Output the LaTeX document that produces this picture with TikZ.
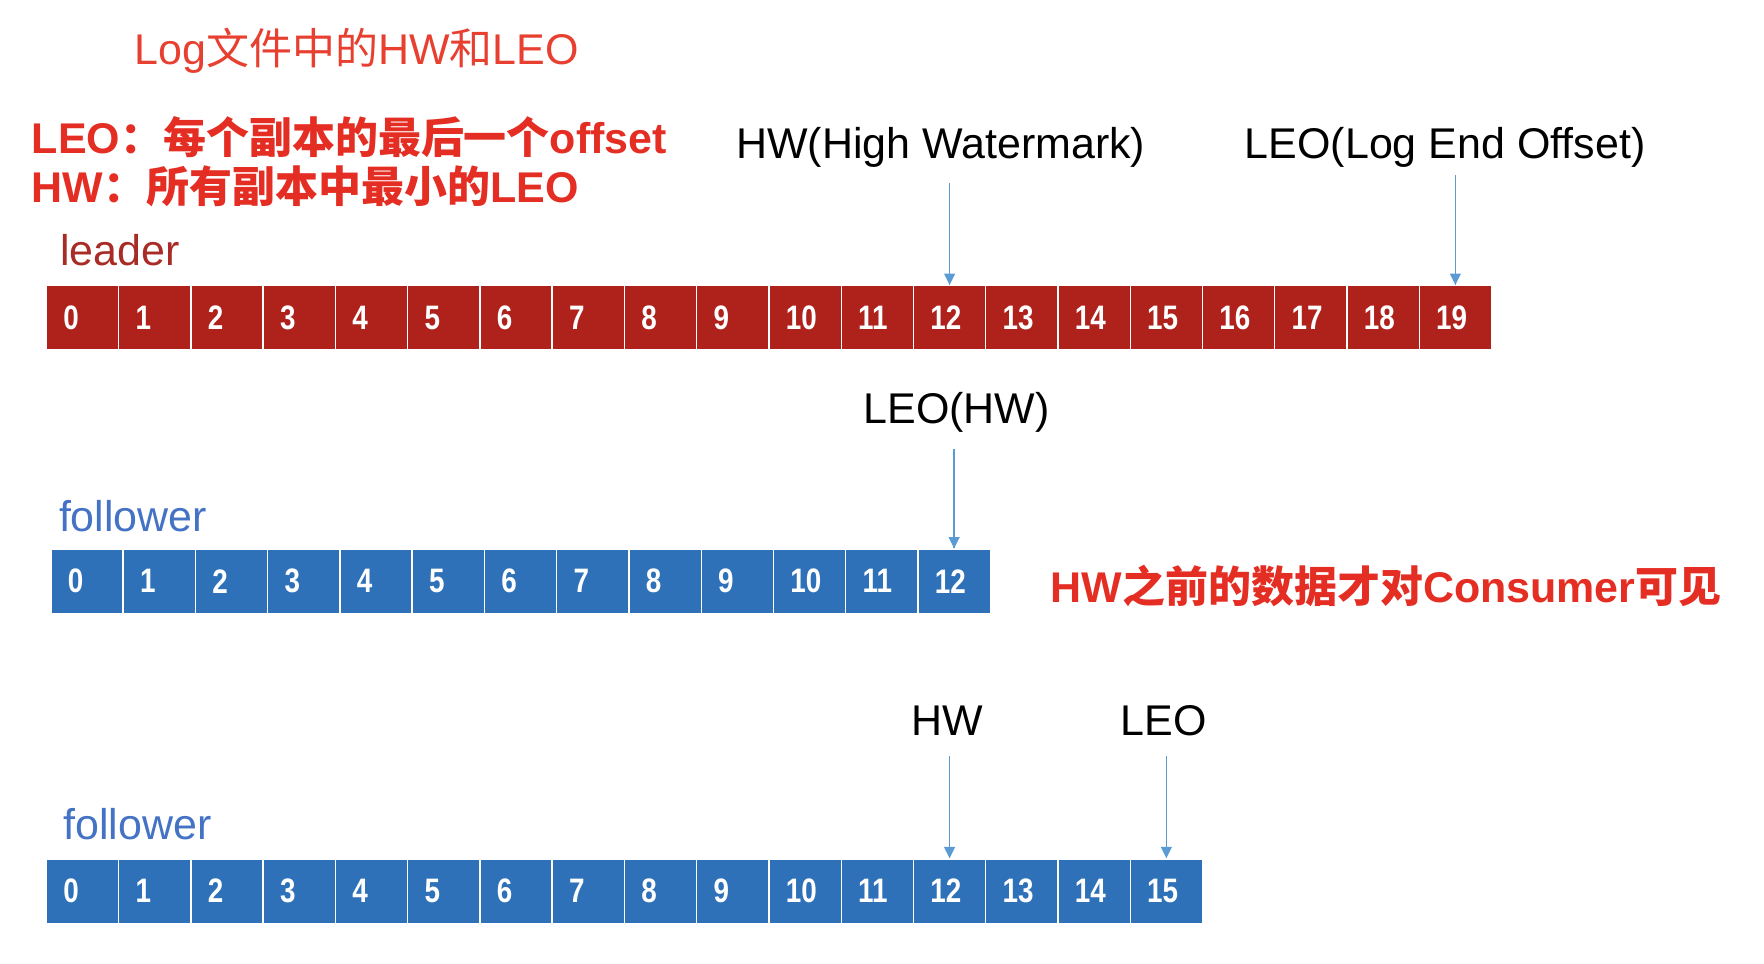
\documentclass[tikz,border=0pt]{standalone}
\usepackage{fontspec}
\setmainfont{Liberation Sans}
\newfontfamily\cjk{Noto Sans CJK SC}
\newfontfamily\numfont[FakeStretch=0.82]{Liberation Sans}

\definecolor{leadred}{RGB}{175,33,27}
\definecolor{folblue}{RGB}{46,113,185}
\definecolor{leadtxt}{RGB}{168,43,38}
\definecolor{foltxt}{RGB}{68,114,196}
\definecolor{titlered}{RGB}{232,64,48}
\definecolor{boldred}{RGB}{228,45,35}
\definecolor{ptrblue}{RGB}{91,155,213}

\tikzset{
  cell/.style={minimum height=57pt, inner ysep=0pt, inner xsep=15pt,
    text width=33.9pt, align=left,
    draw=white, line width=1.2pt, text=white,
    font=\numfont\bfseries\fontsize{30}{30}\selectfont},
  leadcell/.style={cell, fill=leadred},
  folcell/.style={cell, fill=folblue},
  lbl/.style={inner sep=0pt, font=\fontsize{38}{46}\selectfont},
  note/.style={lbl, anchor=west, text=boldred, font=\bfseries\fontsize{38}{46}\selectfont},
  ptr/.style={ptrblue, line width=1.3pt}
}

\begin{document}
\begin{tikzpicture}[x=1pt, y=1pt]
    \useasboundingbox (0,0) rectangle (1560,-852);
    % headings
    \node [lbl, text=titlered] (title) at (315.5,-45) {Log{\cjk 文件中的}HW{\cjk 和}LEO};
    \node [note] (defleo) at (28,-121) {LEO{\cjk ：每个副本的最后一个}offset};
    \node [note] (defhw) at (28,-165) {HW{\cjk ：所有副本中最小的}LEO};
    % leader
    \node [lbl, anchor=west, text=leadtxt] (leader) at (53,-221) {leader};
    \foreach \i in {0,...,19}
        \node [leadcell] (L\i) at (72.95+63.9*\i,-281) {\i};
    \node [lbl] (hwname) at (832,-130) {HW(High Watermark)};
    \node [lbl] (leoname) at (1278,-130) {LEO(Log End Offset)};
    \coordinate (hwtop) at (L12.north |- 0,-162);
    \coordinate (leotop) at (L19.north |- 0,-155);
    \draw [ptr] (hwtop) -- (L12.north);
    \fill [ptrblue] (L12.north) -- ++(-5,10) -- ++(10,0) -- cycle;
    \draw [ptr] (leotop) -- (L19.north);
    \fill [ptrblue] (L19.north) -- ++(-5,10) -- ++(10,0) -- cycle;
    % first follower
    \node [lbl, anchor=west, text=foltxt] (followA) at (52,-456) {follower};
    \foreach \i in {0,...,12}
        \node [folcell] (F\i) at (76.95+63.9*\i,-514) {\i};
    \node [lbl] (leohw) at (846,-365) {LEO(HW)};
    \coordinate (leohwtop) at (F12.north |- 0,-397);
    \draw [ptr] (leohwtop) -- (F12.north);
    \fill [ptrblue] (F12.north) -- ++(-5,10) -- ++(10,0) -- cycle;
    \node [note] (visible) at (929,-518) {HW{\cjk 之前的数据才对}Consumer{\cjk 可见}};
    % second follower
    \node [lbl, anchor=west, text=foltxt] (followB) at (56,-729) {follower};
    \foreach \i in {0,...,15}
        \node [folcell] (G\i) at (72.95+63.9*\i,-788) {\i};
    \node [lbl] (hwB) at (838,-637) {HW};
    \node [lbl] (leoB) at (1029,-637) {LEO};
    \coordinate (hwBtop) at (G12.north |- 0,-669);
    \coordinate (leoBtop) at (G15.north |- 0,-669);
    \draw [ptr] (hwBtop) -- (G12.north);
    \fill [ptrblue] (G12.north) -- ++(-5,10) -- ++(10,0) -- cycle;
    \draw [ptr] (leoBtop) -- (G15.north);
    \fill [ptrblue] (G15.north) -- ++(-5,10) -- ++(10,0) -- cycle;
\end{tikzpicture}
\end{document}
